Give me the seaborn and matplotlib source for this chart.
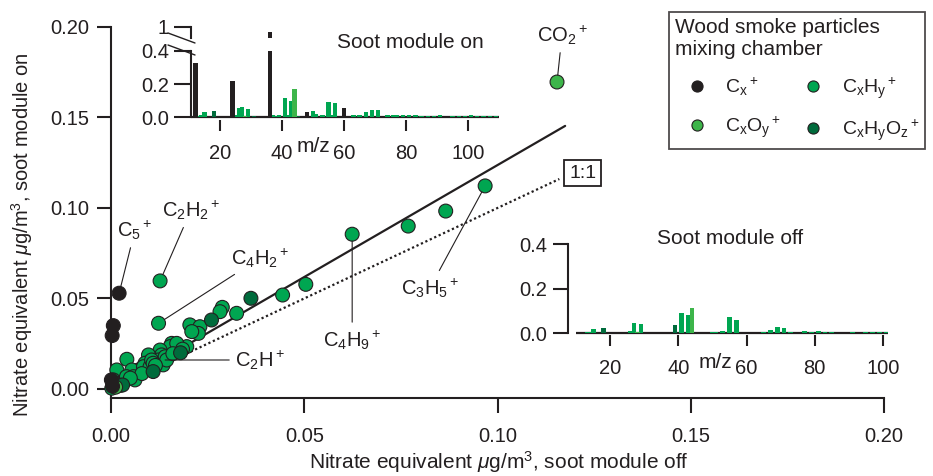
import numpy as np
import pandas as pd
import matplotlib
matplotlib.use("Agg")
import matplotlib.pyplot as plt
from matplotlib.lines import Line2D
import seaborn as sns

# ---------------- data ----------------
# main scatter (nitrate equivalent ug/m3): soot module off (x) vs on (y)
cx_x = [0.0021, 0.0006, 0.0003, 0.0001, 0.0004]
cx_y = [0.0529, 0.0350, 0.0295, 0.0050, 0.0015]

cxhy_x = [0.0127, 0.0123, 0.0968, 0.0866, 0.0769, 0.0624, 0.0504, 0.0444, 0.0325, 0.0288,
          0.0282, 0.0204, 0.0230, 0.0226, 0.0209, 0.0196, 0.0157, 0.0166, 0.0148, 0.0153,
          0.0174, 0.0127, 0.0131, 0.0122, 0.0140, 0.0097, 0.0092, 0.0088, 0.0075, 0.0066,
          0.0071, 0.0041, 0.0054, 0.0032, 0.0015, 0.0006, 0.0002, 0.0019, 0.0028, 0.0040,
          0.0058, 0.0062, 0.0084, 0.0101, 0.0105, 0.0109, 0.0135, 0.0144, 0.0170, 0.0185,
          0.0160, 0.0115, 0.0080, 0.0050, 0.0025, 0.0010]
cxhy_y = [0.0597, 0.0363, 0.1122, 0.0983, 0.0900, 0.0855, 0.0578, 0.0519, 0.0418, 0.0451,
          0.0427, 0.0354, 0.0344, 0.0307, 0.0317, 0.0234, 0.0252, 0.0225, 0.0215, 0.0234,
          0.0206, 0.0215, 0.0188, 0.0160, 0.0178, 0.0188, 0.0142, 0.0142, 0.0105, 0.0096,
          0.0105, 0.0164, 0.0105, 0.0050, 0.0105, 0.0050, 0.0004, 0.0031, 0.0031, 0.0068,
          0.0068, 0.0050, 0.0123, 0.0123, 0.0160, 0.0142, 0.0133, 0.0160, 0.0252, 0.0220,
          0.0195, 0.0130, 0.0085, 0.0060, 0.0020, 0.0015]

cxoy_x = [0.1154, 0.0012]
cxoy_y = [0.1696, 0.0010]

cxhyoz_x = [0.0362, 0.0260, 0.0109, 0.0180, 0.0030]
cxhyoz_y = [0.0501, 0.0381, 0.0096, 0.0200, 0.0022]

fit_slope = 1.237
fit_xmax = 0.1175
one_to_one_xmax = 0.116

# annotated ions: label, point (x, y), label position (x, y)
ann_labels = [r"$C_5{}^+$", r"$C_2H_2{}^+$", r"$C_4H_2{}^+$", r"$C_2H^+$",
              r"$C_4H_9{}^+$", r"$C_3H_5{}^+$", r"$CO_2{}^+$"]
ann_px = [0.0021, 0.0127, 0.0123, 0.0122, 0.0624, 0.0968, 0.1154]
ann_py = [0.0529, 0.0597, 0.0363, 0.0160, 0.0855, 0.1122, 0.1696]
ann_tx = [0.0062, 0.0207, 0.0386, 0.0386, 0.0624, 0.0825, 0.1167]
ann_ty = [0.0878, 0.0989, 0.0724, 0.0160, 0.0271, 0.0558, 0.1956]

# inset spectra (m/z vs fraction), soot module on
on_cx_mz = [12, 24, 36, 48, 60]
on_cx_val = [0.33, 0.22, 0.95, 0.03, 0.053]
on_cxhy_mz = [13, 14, 15, 25, 26, 27, 29, 37, 38, 39,
              41, 42, 43, 50, 51, 53, 55, 56, 57, 63,
              65, 67, 69, 71, 74, 76, 77, 79, 81, 83,
              85, 87, 89, 91, 95, 97, 99, 101, 103, 105,
              107, 109]
on_cxhy_val = [0.008, 0.01, 0.032, 0.01, 0.055, 0.06, 0.05, 0.012, 0.008, 0.01,
               0.114, 0.01, 0.097, 0.035, 0.02, 0.012, 0.09, 0.01, 0.083, 0.012,
               0.01, 0.03, 0.04, 0.04, 0.015, 0.015, 0.012, 0.01, 0.012, 0.01,
               0.008, 0.008, 0.008, 0.01, 0.008, 0.008, 0.008, 0.01, 0.006, 0.007,
               0.006, 0.006]
on_cxoy_mz = [28, 44]
on_cxoy_val = [0.008, 0.17]
on_cxhyoz_mz = [18, 31, 45]
on_cxhyoz_val = [0.036, 0.006, 0.008]

# soot module off
off_cx_mz = [12, 24, 36]
off_cx_val = [0.006, 0.003, 0.004]
off_cxhy_mz = [13, 14, 15, 26, 27, 29, 41, 43, 50, 51,
               53, 55, 57, 65, 67, 69, 71, 73, 77, 79,
               81, 83, 85, 91, 95, 97, 99, 101]
off_cxhy_val = [0.005, 0.008, 0.02, 0.01, 0.045, 0.04, 0.093, 0.083, 0.008, 0.008,
                0.01, 0.072, 0.06, 0.008, 0.015, 0.027, 0.022, 0.008, 0.01, 0.008,
                0.01, 0.008, 0.006, 0.008, 0.006, 0.006, 0.006, 0.006]
off_cxoy_mz = [28, 44]
off_cxoy_val = [0.005, 0.113]
off_cxhyoz_mz = [18, 39]
off_cxhyoz_val = [0.022, 0.038]

families = ["Cx", "CxHy", "CxOy", "CxHyOz"]
fam_labels = [r"$C_x{}^+$", r"$C_xH_y{}^+$", r"$C_xO_y{}^+$", r"$C_xH_yO_z{}^+$"]
colors = {"Cx": "#231f20", "CxHy": "#00a651", "CxOy": "#3db54a", "CxHyOz": "#006b3c"}

# ---------------- style ----------------
sns.set_theme(style="ticks")
plt.rcParams["font.family"] = ["Liberation Sans", "DejaVu Sans"]
plt.rcParams["mathtext.fontset"] = "custom"
plt.rcParams["mathtext.rm"] = "Liberation Sans"
plt.rcParams["mathtext.it"] = "Liberation Sans:italic"
plt.rcParams["mathtext.default"] = "regular"
INK = "#231f20"
plt.rcParams["text.color"] = INK
plt.rcParams["axes.edgecolor"] = INK
plt.rcParams["xtick.color"] = INK
plt.rcParams["ytick.color"] = INK

W, H = 933, 476
fig = plt.figure(figsize=(W / 100, H / 100), dpi=100)


def rect(l, t, r, b):
    return [l / W, 1 - b / H, (r - l) / W, (b - t) / H]


TFS = 14.5
LFS = 15

# ---------------- main scatter ----------------
ax = fig.add_axes(rect(111, 27, 884, 398))
frames = []
for fam, xs, ys in [("CxHy", cxhy_x, cxhy_y), ("CxHyOz", cxhyoz_x, cxhyoz_y),
                    ("CxOy", cxoy_x, cxoy_y), ("Cx", cx_x, cx_y)]:
    frames.append(pd.DataFrame({"off": xs, "on": ys, "family": fam}))
df = pd.concat(frames, ignore_index=True)

xfit = np.array([0, fit_xmax])
ax.plot(xfit, fit_slope * xfit, color=INK, lw=1.6, zorder=2)
x11 = np.array([0, one_to_one_xmax])
ax.plot(x11, x11, color=INK, lw=1.6, ls=(0, (1, 1.2)), zorder=2)

sns.scatterplot(data=df, x="off", y="on", hue="family", palette=colors,
                s=100, edgecolor=INK, linewidth=0.8, legend=False, ax=ax,
                clip_on=False, zorder=3)

ax.set_xlim(0, 0.2)
ax.set_ylim(-0.005, 0.2)
ax.set_xticks([0, 0.05, 0.10, 0.15, 0.20])
ax.set_yticks([0, 0.05, 0.10, 0.15, 0.20])
ax.xaxis.set_major_formatter(matplotlib.ticker.FormatStrFormatter("%.2f"))
ax.yaxis.set_major_formatter(matplotlib.ticker.FormatStrFormatter("%.2f"))
for s in ["top", "right"]:
    ax.spines[s].set_visible(False)
for s in ["left", "bottom"]:
    ax.spines[s].set_linewidth(1.5)
ax.tick_params(axis="x", length=11, width=1.5, direction="out", labelsize=TFS, pad=10)
ax.tick_params(axis="y", length=10, width=1.5, direction="out", labelsize=TFS, pad=6)
ax.set_xlabel("")
ax.set_ylabel("")
ax.patch.set_alpha(0)

fig.text(499 / W, 1 - 462 / H, r"Nitrate equivalent $\mathit{\mu}$g/m$^3$, soot module off",
         ha="center", va="center", fontsize=LFS)
fig.text(22 / W, 1 - 235 / H, r"Nitrate equivalent $\mathit{\mu}$g/m$^3$, soot module on",
         ha="center", va="center", fontsize=14.5, rotation=90)

for lab, px, py, tx, ty in zip(ann_labels, ann_px, ann_py, ann_tx, ann_ty):
    ax.annotate(lab, xy=(px, py), xytext=(tx, ty), ha="center", va="center",
                fontsize=14.5, zorder=4,
                arrowprops=dict(arrowstyle="-", color=INK, lw=0.8,
                                shrinkA=2, shrinkB=5))

ax.text(0.1221, 0.1193, "1:1", ha="center", va="center", fontsize=14,
        bbox=dict(boxstyle="square,pad=0.25", fc="white", ec=INK, lw=1.3))


# ---------------- insets ----------------
def spec_df(groups):
    fr = []
    for fam, mz, val in groups:
        fr.append(pd.DataFrame({"mz": mz, "val": val, "family": fam}))
    return pd.concat(fr, ignore_index=True)


on_df = spec_df([("CxHy", on_cxhy_mz, on_cxhy_val), ("CxHyOz", on_cxhyoz_mz, on_cxhyoz_val),
                 ("CxOy", on_cxoy_mz, on_cxoy_val), ("Cx", on_cx_mz, on_cx_val)])
off_df = spec_df([("CxHy", off_cxhy_mz, off_cxhy_val), ("CxHyOz", off_cxhyoz_mz, off_cxhyoz_val),
                  ("CxOy", off_cxoy_mz, off_cxoy_val), ("Cx", off_cx_mz, off_cx_val)])


def draw_bars(a, d):
    sns.barplot(data=d, x="mz", y="val", hue="family", palette=colors,
                native_scale=True, dodge=False, width=1.4, errorbar=None,
                saturation=1, linewidth=0, legend=False, ax=a, zorder=2)
    a.set_xlabel("")
    a.set_ylabel("")
    a.patch.set_alpha(0)


# soot module on - lower part
a1 = fig.add_axes(rect(191, 51, 499, 120))
draw_bars(a1, on_df)
a1.axhline(0, color=INK, lw=1.6, zorder=1)
a1.set_xlim(10.6, 110)
a1.set_ylim(-0.018, 0.4)
a1.set_yticks([0, 0.2, 0.4])
a1.yaxis.set_major_formatter(matplotlib.ticker.FormatStrFormatter("%.1f"))
a1.set_xticks([20, 40, 60, 80, 100])
a1.set_xticklabels(["20", "40", "60", "80", "100"])
for s in ["top", "right", "bottom"]:
    a1.spines[s].set_visible(False)
a1.spines["left"].set_bounds(0, 0.4)
a1.spines["left"].set_linewidth(1.5)
a1.tick_params(axis="x", length=8, width=1.5, labelsize=TFS, pad=9)
a1.tick_params(axis="y", length=12, width=1.5, labelsize=TFS, pad=4)

# soot module on - upper (broken) part
a1t = fig.add_axes(rect(191, 27, 499, 38))
draw_bars(a1t, on_df)
a1t.set_xlim(10.6, 110)
a1t.set_ylim(0.9, 1.0)
a1t.set_yticks([1.0])
a1t.set_yticklabels(["1"])
a1t.set_xticks([])
for s in ["top", "right", "bottom"]:
    a1t.spines[s].set_visible(False)
a1t.spines["left"].set_linewidth(1.5)
a1t.tick_params(axis="y", length=12, width=1.5, labelsize=TFS, pad=4)
for (x0, y0, x1, y1) in [(168, 33, 195, 43), (168, 45, 195, 55)]:
    fig.add_artist(Line2D([x0 / W, x1 / W], [1 - y0 / H, 1 - y1 / H],
                          transform=fig.transFigure, color=INK, lw=1.0))

fig.text(410 / W, 1 - 43 / H, "Soot module on", ha="center", va="center", fontsize=LFS)
fig.text(313 / W, 1 - 147 / H, "m/z", ha="center", va="center", fontsize=LFS)

# soot module off
a2 = fig.add_axes(rect(568, 244, 888, 335))
draw_bars(a2, off_df)
a2.hlines(0, 10, 101.5, color=INK, lw=1.6, zorder=1)
a2.set_xlim(7.6, 101.5)
a2.set_ylim(-0.0076, 0.4)
a2.set_yticks([0, 0.2, 0.4])
a2.yaxis.set_major_formatter(matplotlib.ticker.FormatStrFormatter("%.1f"))
a2.set_xticks([20, 40, 60, 80, 100])
a2.set_xticklabels(["20", "40", "60", "80", "100"])
for s in ["top", "right", "bottom"]:
    a2.spines[s].set_visible(False)
a2.spines["left"].set_bounds(0, 0.4)
a2.spines["left"].set_linewidth(1.5)
a2.tick_params(axis="x", length=8, width=1.5, labelsize=TFS, pad=9)
a2.tick_params(axis="y", length=11, width=1.5, labelsize=TFS, pad=4)

fig.text(730 / W, 1 - 239 / H, "Soot module off", ha="center", va="center", fontsize=LFS)
fig.text(715 / W, 1 - 362 / H, "m/z", ha="center", va="center", fontsize=LFS)

# ---------------- legend ----------------
order = ["Cx", "CxOy", "CxHy", "CxHyOz"]
lab_map = dict(zip(families, fam_labels))
handles = [Line2D([], [], ls="", marker="o", markersize=8, markerfacecolor=colors[f],
                  markeredgecolor=INK, markeredgewidth=0.8) for f in order]
leg = fig.legend(handles, [lab_map[f] for f in order], loc="upper left",
                 bbox_to_anchor=(669 / W, 1 - 12 / H), ncol=2,
                 title="Wood smoke particles\nmixing chamber", fontsize=14,
                 title_fontsize=LFS, frameon=True, fancybox=False,
                 edgecolor=INK, borderaxespad=0, labelspacing=0.85,
                 handlelength=2.3, handletextpad=0.3, columnspacing=0.5,
                 borderpad=0.3)
leg.get_frame().set_linewidth(1.3)
leg._legend_box.align = "left"

fig.savefig("out.png", dpi=100)
